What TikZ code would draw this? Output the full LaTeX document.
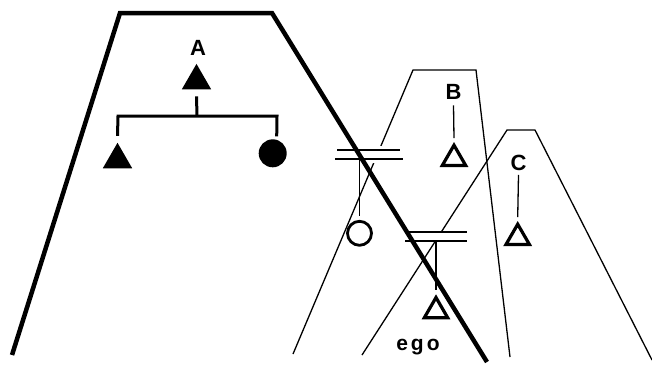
\documentclass[tikz,border=0pt]{standalone}
\usepackage{fontspec}
\setmainfont{Liberation Sans}
\usetikzlibrary{shapes.geometric,calc}
\begin{document}
\begin{tikzpicture}[x=1pt,y=-1pt,
  thinline/.style={line width=1.3pt},
  thickline/.style={line width=4.5pt},
  kinline/.style={line width=3pt},
  marline/.style={line width=1.8pt},
  lettertext/.style={font=\bfseries\fontsize{22}{22}\selectfont, inner sep=0pt},
  ftri/.style={regular polygon, regular polygon sides=3, fill=black, draw=none, inner sep=0pt, outer sep=0pt, minimum size=34pt},
  otri/.style={regular polygon, regular polygon sides=3, draw, line width=3.2pt, inner sep=0pt, outer sep=0pt, minimum size=27pt},
  fcirc/.style={circle, fill=black, inner sep=0pt, outer sep=0pt, minimum size=28pt},
  ocirc/.style={circle, draw, line width=2.8pt, inner sep=0pt, outer sep=0pt, minimum size=24pt}
]
\useasboundingbox (0,0) rectangle (652,365);
% thin trapezoids B and C
\draw[thinline] (293,354) -- (413,70) -- (476,70) -- (510,357);
\draw[thinline] (362,355) -- (507,130) -- (535,130) -- (652,360);
% marriage 1
\fill[white] (334,146) rectangle (404,163);
\coordinate (m1u1) at (337,150); \coordinate (m1u2) at (400,150);
\coordinate (m1l1) at (335,159); \coordinate (m1l2) at (403,159);
\draw[marline] (m1u1) -- (m1u2);
\draw[marline] (m1l1) -- (m1l2);
% marriage 2
\fill[white] (404,233) rectangle (468,240);
\coordinate (m2u1) at (406,232); \coordinate (m2u2) at (467,232);
\coordinate (m2l1) at (405,241); \coordinate (m2l2) at (467,241);
\draw[marline] (m2u1) -- (m2u2);
\draw[marline] (m2l1) -- (m2l2);
% thick trapezoid A
\draw[thickline] (12,355) -- (120,13) -- (272,13) -- (487,362);
% group A
\node[lettertext] (lA) at (198,48) {A};
\node[ftri] (tA) at (196.5,80.9) {};
\node[ftri] (tL) at (117.5,159.8) {};
\node[fcirc] (cR) at (272.7,153.3) {};
\coordinate (aL) at (118,116);
\coordinate (aR) at (277,116);
\coordinate (aM) at (197,116);
\draw[kinline] ($(tA.south)+(0,7)$) -- (aM);
\draw[kinline] ($(tL.north)+(0,-7)$) -- (aL) -- (aR) -- ($(cR.north)+(4,-3)$);
% B
\node[lettertext] (lB) at (453.5,91.5) {B};
\node[otri] (tB) at (454,158.7) {};
\draw[thinline] ($(lB.south)+(0,6)$) -- ($(tB.north)+(0,-7)$);
% C
\node[lettertext] (lC) at (518.5,163) {C};
\node[otri] (tC) at (517.7,237.7) {};
\draw[thinline] ($(lC.south)+(0,4)$) -- ($(tC.north)+(0,-7)$);
% child of marriage 1
\node[ocirc] (o1) at (359.5,233.3) {};
\coordinate (d1) at (359.5,159);
\draw[thinline] (d1) -- ($(o1.north)+(0,-5)$);
% ego
\node[otri] (tE) at (436,311) {};
\coordinate (d2) at (436,241);
\draw[thinline] (d2) -- ($(tE.north)+(0,-8)$);
\node[font=\bfseries\fontsize{21}{21}\selectfont, inner sep=0pt] (ego) at (418,347) {e\hspace{3pt}g\hspace{3pt}o};
\end{tikzpicture}
\end{document}
